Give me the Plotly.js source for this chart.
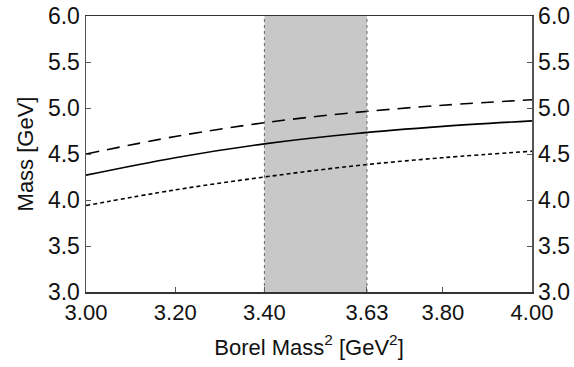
<!DOCTYPE html>
<html><head><meta charset="utf-8">
<script src="https://cdn.plot.ly/plotly-3.0.1.min.js"></script>
<style>html,body{margin:0;padding:0;background:#fff}#chart{width:574px;height:367px}</style>
</head><body><div id="chart"></div>
<script>
const borel = [3.0, 3.2, 3.4, 3.6, 3.8, 4.0];
const massCentral = [4.27, 4.46, 4.61, 4.72, 4.80, 4.86];
const massUpper = [4.50, 4.69, 4.84, 4.95, 5.03, 5.09];
const massLower = [3.94, 4.11, 4.25, 4.37, 4.46, 4.53];
const windowEdges = [3.40, 3.63];
const xTickVals = [3.00, 3.20, 3.40, 3.63, 3.80, 4.00];
const xTickText = ["3.00", "3.20", "3.40", "3.63", "3.80", "4.00"];

const lineBase = {x: borel, mode: 'lines', hoverinfo: 'skip', showlegend: false};
const traces = [
  Object.assign({}, lineBase, {y: massUpper, line: {color: '#000', width: 1.6, dash: '13px,8px', shape: 'spline'}}),
  Object.assign({}, lineBase, {y: massCentral, line: {color: '#000', width: 1.6, shape: 'spline'}}),
  Object.assign({}, lineBase, {y: massLower, line: {color: '#000', width: 1.6, dash: '4px,3px', shape: 'spline'}}),
  Object.assign({}, lineBase, {y: massCentral, yaxis: 'y2', line: {width: 0}, opacity: 0})
];
const fam = 'Liberation Sans, Arial, sans-serif';
const layout = {
  width: 574, height: 367,
  margin: {l: 86, r: 42, t: 16, b: 75},
  paper_bgcolor: '#fff', plot_bgcolor: '#fff',
  font: {family: fam, color: '#111'},
  xaxis: {
    range: [3, 4], tickvals: xTickVals, ticktext: xTickText,
    ticks: 'inside', ticklen: 5, tickcolor: '#555', tickwidth: 1,
    showgrid: false, zeroline: false,
    showline: true, linecolor: '#333', linewidth: 1.5, mirror: true,
    tickfont: {size: 22, family: fam, color: '#111'},
    title: {text: 'Borel Mass<sup>2</sup> [GeV<sup>2</sup>]', font: {size: 22, family: fam, color: '#111'}, standoff: 15}
  },
  yaxis: {
    range: [3, 6], dtick: 0.5, tickformat: '.1f',
    ticks: 'inside', ticklen: 5, tickcolor: '#555', tickwidth: 1,
    showgrid: false, zeroline: false,
    showline: true, linecolor: '#555', linewidth: 1.5,
    tickfont: {size: 23, family: fam, color: '#111'},
    title: {text: 'Mass [GeV]', font: {size: 22, family: fam, color: '#111'}, standoff: 8}
  },
  yaxis2: {
    range: [3, 6], dtick: 0.5, tickformat: '.1f', overlaying: 'y', side: 'right',
    ticks: 'inside', ticklen: 5, tickcolor: '#555', tickwidth: 1,
    showgrid: false, zeroline: false,
    showline: true, linecolor: '#555', linewidth: 1.5,
    tickfont: {size: 23, family: fam, color: '#111'}
  },
  shapes: [
    {type: 'rect', xref: 'x', yref: 'paper', x0: windowEdges[0], x1: windowEdges[1], y0: 0, y1: 1,
     fillcolor: '#c8c8c8', line: {width: 0}, layer: 'below'},
    {type: 'line', xref: 'x', yref: 'paper', x0: windowEdges[0], x1: windowEdges[0], y0: 0, y1: 1,
     line: {color: '#666', width: 1, dash: 'dot'}},
    {type: 'line', xref: 'x', yref: 'paper', x0: windowEdges[1], x1: windowEdges[1], y0: 0, y1: 1,
     line: {color: '#666', width: 1, dash: 'dot'}}
  ]
};
Plotly.newPlot('chart', traces, layout, {staticPlot: true, displayModeBar: false});
</script></body></html>
